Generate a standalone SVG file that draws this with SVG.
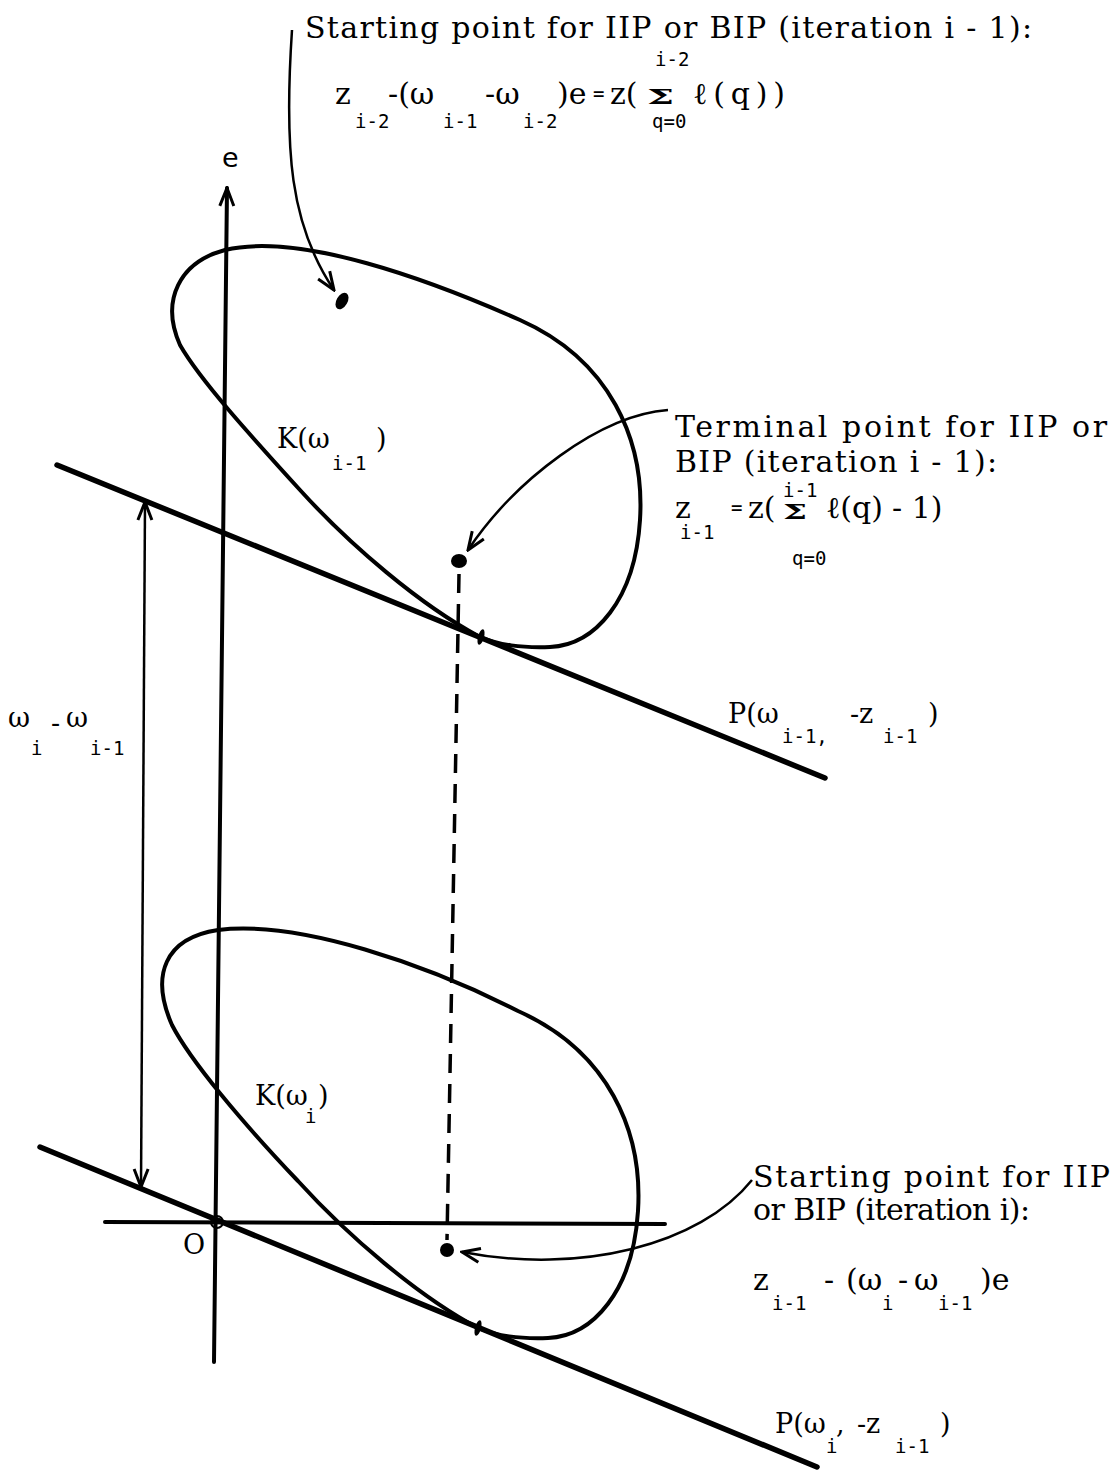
<svg xmlns="http://www.w3.org/2000/svg" width="1113" height="1470" viewBox="0 0 1113 1470">
<defs>
<marker id="ah" markerUnits="userSpaceOnUse" viewBox="-22 -11 24 22" refX="0" refY="0" markerWidth="24" markerHeight="22" orient="auto-start-reverse">
<path d="M-18,-7 L0,0 L-18,7" fill="none" stroke="#000" stroke-width="3"/>
</marker>
</defs>
<style>
.curve{fill:none;stroke:#000;stroke-width:4;stroke-linejoin:round}
.pl{stroke:#000;stroke-width:5.5;stroke-linecap:round}
.ax{stroke:#000;stroke-width:4;stroke-linecap:round}
.thin{fill:none;stroke:#000;stroke-width:2.5}
.dash{stroke:#000;stroke-width:3.5;stroke-dasharray:19 11}
.dot{fill:#000}
.t{font-family:"DejaVu Serif",serif;font-size:30px;fill:#000}
.l{font-family:"DejaVu Serif",serif;font-size:27px;fill:#000}
.s{font-family:"DejaVu Sans Mono",monospace;font-size:19px;fill:#000}
.sig{font-family:"DejaVu Serif",serif;font-weight:bold;font-size:21px;fill:#000}
.e{font-family:"DejaVu Sans",sans-serif;font-size:27px;fill:#000}
</style>
<rect width="1113" height="1470" fill="#fff"/>

<g id="axes">
<line class="ax" x1="214" y1="1362" x2="227" y2="188" marker-end="url(#ah)"/>
<line class="ax" x1="105" y1="1222" x2="665" y2="1224"/>
<circle cx="217" cy="1222" r="6" fill="none" stroke="#000" stroke-width="2"/>
<text class="e" x="222" y="167">e</text>
<text class="l" x="183" y="1254">O</text>
</g>

<g id="ellipse-upper">
<path class="curve" d="M480,637 C420,605 350,545 300,490 C250,435 200,380 180,345 C160,300 180,262 225,250 C300,232 430,280 520,320 C610,360 645,440 640,520 C635,600 595,645 550,647 C520,648 500,645 480,637 Z"/>
<text class="l" x="277" y="448">K(ω</text>
<text class="s" x="332" y="470">i-1</text>
<text class="l" x="376" y="448">)</text>
</g>

<g id="ellipse-lower">
<path class="curve" d="M478,1328 C418,1296 348,1236 298,1181 C240,1120 190,1060 172,1025 C150,975 165,938 218,930 C300,920 428,965 518,1011 C608,1051 643,1131 638,1211 C633,1291 593,1336 548,1338 C518,1339 498,1336 478,1328 Z"/>
<text class="l" x="255" y="1105">K(ω</text>
<text class="s" x="305" y="1123">i</text>
<text class="l" x="318" y="1105">)</text>
</g>

<g id="plane-upper">
<line class="pl" x1="57" y1="465" x2="825" y2="778"/>
<text class="l" x="728" y="723">P(ω</text>
<text class="s" x="782" y="743">i-1,</text>
<text class="l" x="850" y="723">-z</text>
<text class="s" x="883" y="743">i-1</text>
<text class="l" x="928" y="723">)</text>
</g>

<g id="plane-lower">
<line class="pl" x1="40" y1="1147" x2="817" y2="1467"/>
<text class="l" x="775" y="1433">P(ω</text>
<text class="s" x="826" y="1453">i</text>
<text class="l" x="836" y="1433">,</text>
<text class="l" x="857" y="1433">-z</text>
<text class="s" x="895" y="1453">i-1</text>
<text class="l" x="940" y="1433">)</text>
</g>

<g id="points">
<ellipse class="dot" cx="342" cy="301" rx="5.5" ry="9" transform="rotate(30 342 301)"/>
<ellipse class="dot" cx="459" cy="561" rx="8" ry="7"/>
<ellipse class="dot" cx="481" cy="637" rx="3" ry="8" transform="rotate(15 481 637)"/>
<ellipse class="dot" cx="478" cy="1328" rx="3" ry="8" transform="rotate(15 478 1328)"/>
<ellipse class="dot" cx="447" cy="1250" rx="7" ry="7"/>
</g>

<g id="label-start-prev">
<text class="t" x="305" y="38" textLength="727">Starting point for IIP or BIP (iteration i - 1):</text>
<text class="t" x="335" y="104">z</text>
<text class="s" x="355" y="128">i-2</text>
<text class="t" x="388" y="104">-(ω</text>
<text class="s" x="443" y="128">i-1</text>
<text class="t" x="485" y="104">-ω</text>
<text class="s" x="523" y="128">i-2</text>
<text class="t" x="557" y="104">)e</text>
<text class="s" x="593" y="100">=</text>
<text class="t" x="610" y="104">z(</text>
<text class="sig" x="647" y="104" textLength="27" lengthAdjust="spacingAndGlyphs">Σ</text>
<text class="s" x="655" y="66">i-2</text>
<text class="s" x="652" y="128">q=0</text>
<text class="t" x="693" y="104" textLength="92">ℓ(q))</text>
</g>

<g id="label-terminal">
<text class="t" x="675" y="437" textLength="432">Terminal point for IIP or</text>
<text class="t" x="675" y="472" textLength="322">BIP (iteration i - 1):</text>
<text class="s" x="783" y="497">i-1</text>
<text class="t" x="675" y="518">z</text>
<text class="s" x="680" y="539">i-1</text>
<text class="s" x="731" y="514">=</text>
<text class="t" x="748" y="518">z(</text>
<text class="sig" x="783" y="519" textLength="24" lengthAdjust="spacingAndGlyphs">Σ</text>
<text class="t" x="826" y="518">ℓ(q)</text>
<text class="t" x="892" y="518">- 1)</text>
<text class="s" x="792" y="565">q=0</text>
</g>

<g id="label-start-i">
<text class="t" x="753" y="1187" textLength="357">Starting point for IIP</text>
<text class="t" x="753" y="1220" textLength="277">or BIP (iteration i):</text>
<text class="t" x="753" y="1290">z</text>
<text class="s" x="772" y="1310">i-1</text>
<text class="t" x="824" y="1290">-</text>
<text class="t" x="846" y="1290">(ω</text>
<text class="s" x="882" y="1310">i</text>
<text class="t" x="898" y="1290">-</text>
<text class="t" x="914" y="1290">ω</text>
<text class="s" x="938" y="1310">i-1</text>
<text class="t" x="980" y="1290">)e</text>
</g>

<g id="label-gap">
<text class="l" x="8" y="727">ω</text>
<text class="s" x="31" y="755">i</text>
<text class="l" x="51" y="732">-</text>
<text class="l" x="66" y="727">ω</text>
<text class="s" x="90" y="755">i-1</text>
</g>

<g id="connectors">
<path class="thin" d="M292,30 C284,150 290,225 334,290" marker-end="url(#ah)"/>
<path class="thin" d="M668,410 C600,415 515,480 468,550" marker-end="url(#ah)"/>
<path class="thin" d="M752,1180 C700,1245 580,1275 462,1252" marker-end="url(#ah)"/>
<line class="thin" x1="145" y1="502" x2="141" y2="1187" marker-start="url(#ah)" marker-end="url(#ah)"/>
<line class="dash" x1="459" y1="574" x2="447" y2="1240"/>
</g>
</svg>
